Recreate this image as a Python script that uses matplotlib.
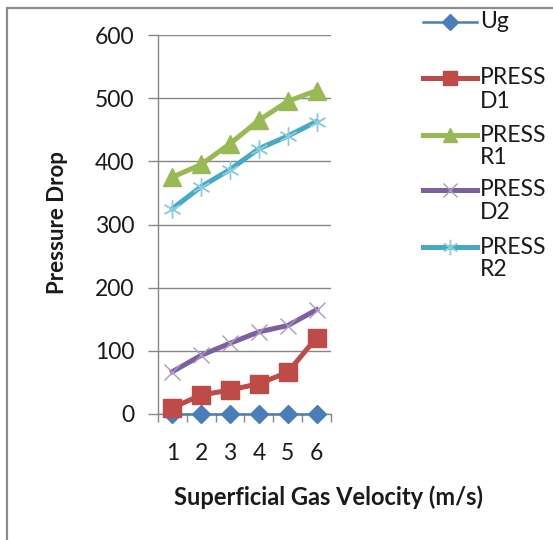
import matplotlib
matplotlib.use("Agg")
import matplotlib.pyplot as plt
from matplotlib.lines import Line2D
from matplotlib.patches import Rectangle
from matplotlib.ticker import FixedLocator

plt.rcParams['font.family'] = ['Lato', 'DejaVu Sans']

# Data
velocity = [1, 2, 3, 4, 5, 6]
ug = [0, 0, 0, 0, 0, 0]
press_d1 = [10, 30, 38, 48, 66, 121]
press_r1 = [375, 395, 428, 465, 495, 512]
press_d2 = [67, 93, 112, 130, 140, 165]
press_r2 = [325, 360, 387, 420, 440, 463]
y_ticks = [0, 100, 200, 300, 400, 500, 600]

series = [
    (["Ug"], ug, dict(color="#4A7EBB", lw=1.8, marker="D", ms=9, mec="#4A7EBB", mfc="#4A7EBB")),
    (["PRESS", "D1"], press_d1, dict(color="#BE4B48", lw=3.6, marker="s", ms=12.5, mec="#BE4B48", mfc="#BE4B48")),
    (["PRESS", "R1"], press_r1, dict(color="#98B954", lw=3.6, marker="^", ms=12.5, mec="#98B954", mfc="#98B954")),
    (["PRESS", "D2"], press_d2, dict(color="#7D60A0", lw=3.6, marker="x", ms=12, mec="#A99BC6", mew=1.0)),
    (["PRESS", "R2"], press_r2, dict(color="#46AAC5", lw=3.6, marker=(6, 2, 0), ms=13, mec="#8ACBDD", mew=1.0)),
]

W, H = 553, 540
FS = 16.5
TXT = "#1a1a1a"
fig = plt.figure(figsize=(W / 100, H / 100), dpi=100)
fig.patch.set_facecolor("white")

# outer chart border
fig.add_artist(Rectangle((7 / W, -0.1), 1.2, 1 - 8 / H + 0.1, transform=fig.transFigure,
                         fill=False, edgecolor="#8C8C8C", lw=1.6))

ax = fig.add_axes([158 / W, 1 - 414 / H, (331 - 158) / W, (414 - 35) / H])
for name, vals, st in series:
    ax.plot(velocity, vals, zorder=3, clip_on=False, **st)

ax.set_xlim(0.5, 6.5)
ax.set_ylim(0, 600)
ax.set_yticks(y_ticks)
ax.set_xticks(velocity)
ax.xaxis.set_minor_locator(FixedLocator([0.5, 1.5, 2.5, 3.5, 4.5, 5.5, 6.5]))
ax.grid(axis="y", color="#868686", lw=1.0, zorder=0)
for s in ("top", "right"):
    ax.spines[s].set_visible(False)
for s in ("left", "bottom"):
    ax.spines[s].set_color("#868686")
    ax.spines[s].set_linewidth(1.0)
ax.tick_params(axis="y", length=7, width=1.0, color="#868686", pad=10, labelsize=FS, labelcolor=TXT)
ax.tick_params(axis="x", which="major", length=0, pad=21, labelsize=FS, labelcolor=TXT)
ax.tick_params(axis="x", which="minor", length=6, width=1.0, color="#868686")

fig.text(329 / W, 1 - 497 / H, "Superficial Gas Velocity (m/s)", ha="center", va="center",
         fontsize=17, fontweight="bold", color=TXT)
fig.text(58 / W, 1 - 223 / H, "Pressure Drop", ha="center", va="center", rotation=90,
         fontsize=16, fontweight="bold", color=TXT)

# legend
first_line_y = [22, 78, 135, 190, 247]
for (lines, vals, st), yy in zip(series, first_line_y):
    y = 1 - yy / H
    fig.add_artist(Line2D([423 / W, 477 / W], [y, y], transform=fig.transFigure,
                          color=st["color"], lw=st["lw"]))
    fig.add_artist(Line2D([450 / W], [y], transform=fig.transFigure, ms=st["ms"] * 0.85,
                          marker=st["marker"], color=st["color"], lw=0,
                          mec=st.get("mec"), mfc=st.get("mfc", st["color"]), mew=st.get("mew", 1.0)))
    for i, line in enumerate(lines):
        fig.text(480 / W, 1 - (yy + 23 * i) / H, line, ha="left", va="center",
                 fontsize=FS, color=TXT)

fig.savefig("out.png", dpi=100)
